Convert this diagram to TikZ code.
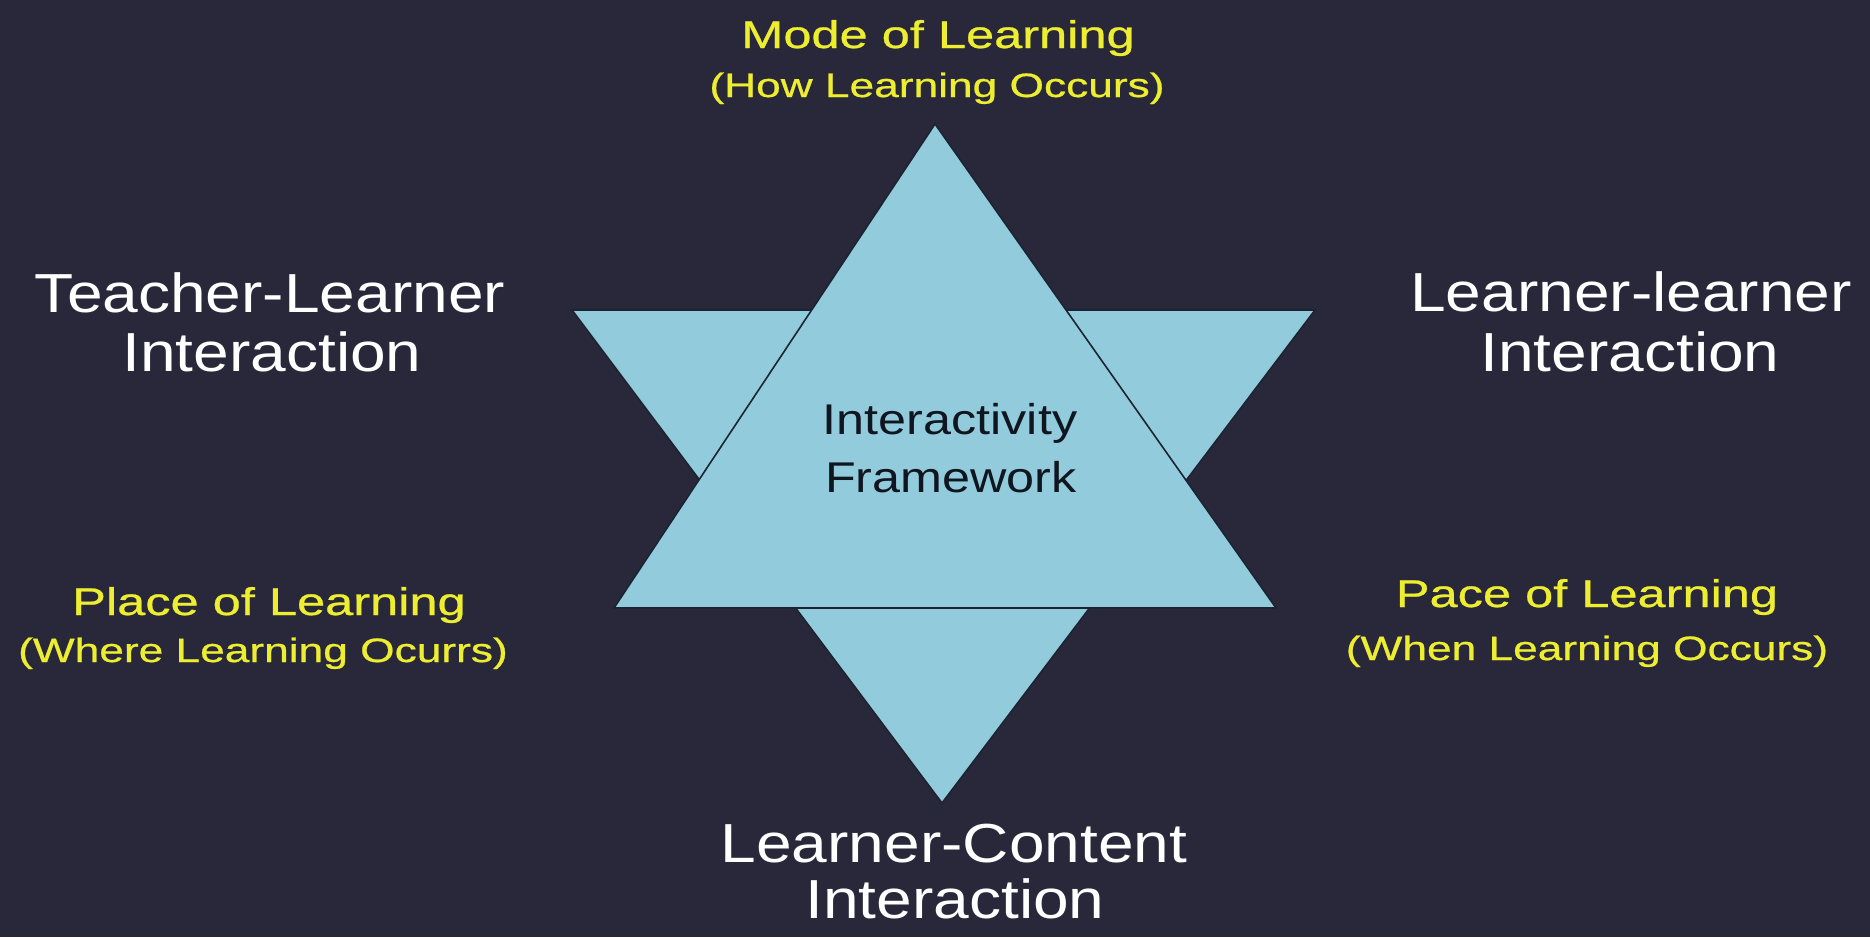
\documentclass[tikz,border=0pt]{standalone}
\usepackage{fontspec}
\setmainfont{Liberation Sans}
\newfontfamily\whitefont[FakeStretch=1.165]{Liberation Sans}
\newfontfamily\yellowfont[FakeStretch=1.31,FakeBold=0.7]{Liberation Sans}
\newfontfamily\centerfont[FakeStretch=1.17]{Liberation Sans}
\definecolor{bgnavy}{HTML}{29283A}
\definecolor{triblue}{HTML}{92CBDC}
\definecolor{edgecol}{HTML}{1C2431}
\definecolor{ylw}{HTML}{EEEE30}
\definecolor{ctext}{HTML}{10161F}
\begin{document}
\begin{tikzpicture}[x=1pt,y=-1pt,
  tri/.style={fill=triblue, draw=edgecol, line width=1.6pt, line join=miter},
  wlab/.style={anchor=base, inner sep=0pt, text=white, font=\whitefont\fontsize{55}{60}\selectfont},
  ytitle/.style={anchor=base, inner sep=0pt, text=ylw, font=\yellowfont\fontsize{38.6}{44}\selectfont},
  ysub/.style={anchor=base, inner sep=0pt, text=ylw, font=\yellowfont\fontsize{33.8}{40}\selectfont},
  clab/.style={anchor=base, inner sep=0pt, text=ctext, font=\centerfont\fontsize{43}{50}\selectfont}]
\useasboundingbox (0,0) rectangle (1870,937);
\fill[bgnavy] (0,0) rectangle (1870,937);
% inverted triangle
\coordinate (dTL) at (572,310);
\coordinate (dTR) at (1315,310);
\coordinate (dB) at (942,803);
% upright triangle
\coordinate (uA) at (935,124);
\coordinate (uBL) at (614,608);
\coordinate (uBR) at (1276,608);
\draw[tri] (dTL) -- (dTR) -- (dB) -- cycle;
\draw[tri] (uA) -- (uBR) -- (uBL) -- cycle;
% labels
\node[ytitle] (mode) at (938,48) {Mode of Learning};
\node[ysub] (modesub) at (937,97) {(How Learning Occurs)};
\node[wlab] (teacher) at (270,312) {Teacher-Learner};
\node[wlab] (teacher2) at (272,371) {Interaction};
\node[wlab] (peer) at (1631,311) {Learner-learner};
\node[wlab] (peer2) at (1630,371) {Interaction};
\node[ytitle] (place) at (269,615) {Place of Learning};
\node[ysub] (placesub) at (263,662) {(Where Learning Ocurrs)};
\node[ytitle] (pace) at (1587,607) {Pace of Learning};
\node[ysub] (pacesub) at (1587,660) {(When Learning Occurs)};
\node[wlab] (content) at (954,862) {Learner-Content};
\node[wlab] (content2) at (955,918) {Interaction};
\node[clab] (fw) at (950,434) {Interactivity};
\node[clab] (fw2) at (951,492) {Framework};
\end{tikzpicture}
\end{document}
